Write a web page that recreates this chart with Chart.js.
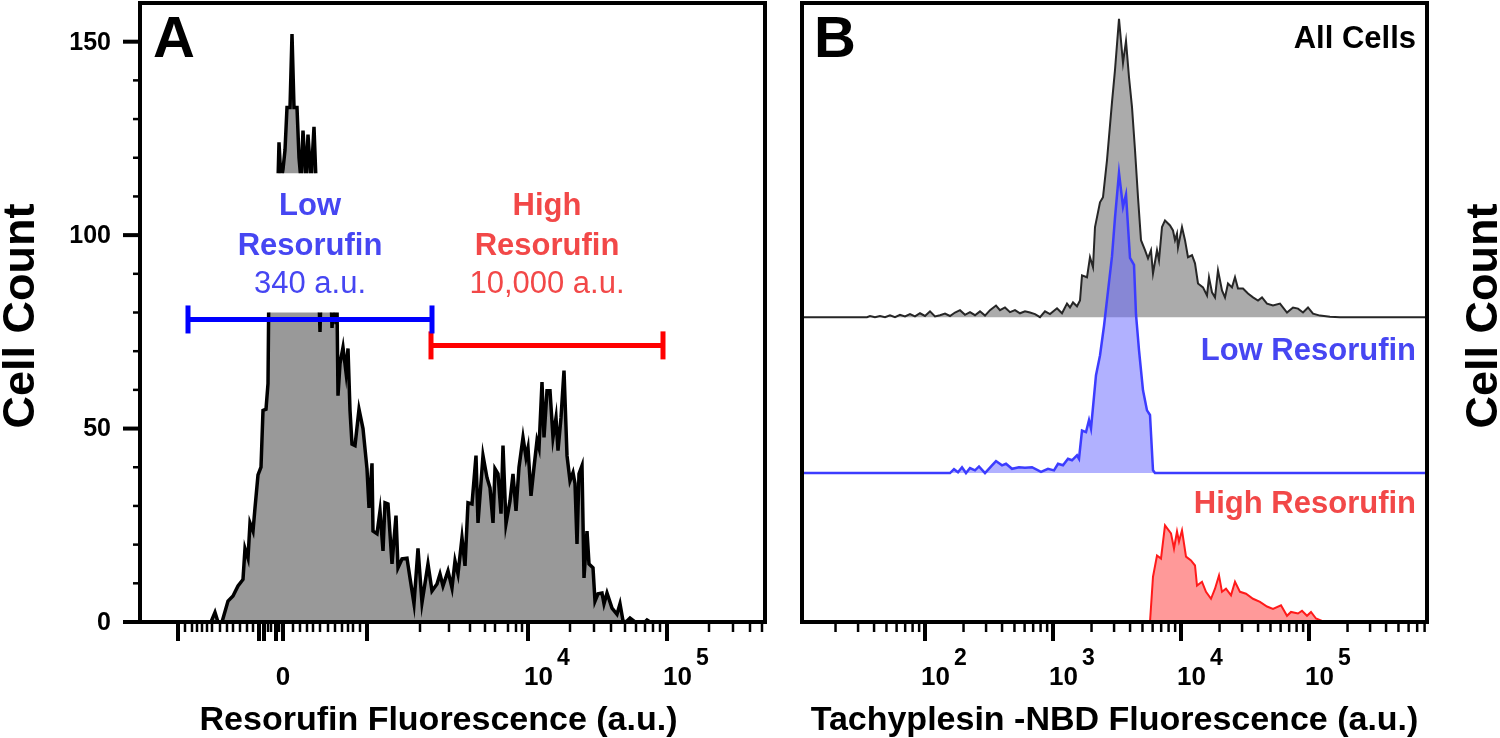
<!DOCTYPE html>
<html>
<head>
<meta charset="utf-8">
<script src="https://cdn.jsdelivr.net/npm/chart.js@4.4.1/dist/chart.umd.min.js"></script>
<style>
  html, body { margin: 0; padding: 0; background: #fff; }
  #wrap { position: relative; width: 1500px; height: 738px; overflow: hidden; }
  canvas { position: absolute; top: 0; }
  #chartA { left: 0; }
  #chartB { left: 790px; }
</style>
</head>
<body>
<div id="wrap">
  <canvas id="chartA" width="790" height="738"></canvas>
  <canvas id="chartB" width="710" height="738"></canvas>
</div>
<script>
const FONT = '"Liberation Sans", Arial, Helvetica, sans-serif'

// ---- Panel A : resorufin histogram, display channel (0-1250) vs cell count ----
const resorufinChannel = [
  0, 142, 150, 156, 164, 176, 186, 196, 206, 210, 216, 220, 226, 230, 236, 242, 246, 252, 256,
  258, 264, 270, 276, 278, 282, 286, 290, 294, 300, 304, 308, 314, 318, 322, 326, 332, 336, 342,
  348, 352, 356, 360, 364, 370, 376, 380, 384, 388, 392, 394, 396, 400, 406, 412, 416, 420, 424,
  430, 438, 446, 454, 458, 464, 466, 474, 480, 486, 490, 496, 504, 512, 516, 524, 534, 540, 548,
  556, 564, 576, 584, 594, 600, 606, 616, 624, 630, 636, 644, 650, 656, 664, 672, 676, 686, 694,
  700, 706, 710, 716, 722, 726, 732, 740, 746, 752, 758, 766, 772, 776, 782, 788, 794, 798, 804,
  808, 814, 820, 826, 832, 836, 842, 848, 854, 860, 866, 870, 874, 878, 884, 888, 894, 898, 906,
  910, 916, 924, 928, 934, 944, 954, 960, 966, 972, 980, 990, 1010, 1014, 1020, 1250
]
const resorufinCount = [
  0, 0, 2.5, 0, 0, 5.4, 6.7, 9.3, 11, 19, 16.5, 25.6, 23.5, 29.5, 38, 40, 54.7, 55, 61.6,
  90, 105, 112, 114, 124, 114, 117, 122, 133, 133, 152, 133, 133, 120, 114, 127, 114, 126, 114,
  128, 114, 92, 75, 95, 100, 98, 95, 76, 85, 77, 82, 58.5, 66.8, 71, 64.5, 70.7, 54.7, 46,
  45.6, 55, 50, 39.6, 29.5, 41, 23.5, 22.8, 28.7, 18.4, 30.8, 30.5, 15, 27.5, 14, 16.3, 16.5, 11.4, 4.7,
  19, 5, 15, 8, 9.8, 12.4, 9.3, 13.2, 8.8, 15.8, 12.4, 21.8, 14.5, 30.8, 30.5, 43, 25.6, 43, 37.3,
  34.7, 25.6, 39.6, 38.3, 28, 45.6, 25.4, 31.3, 38.3, 28.7, 40, 47.7, 42.5, 45, 32.6, 40, 46.9, 45, 62,
  47.7, 59.8, 59.8, 47.7, 52.8, 44.3, 52.8, 65, 43, 36.5, 38.6, 35.8, 20.2, 38.3, 40.4, 11.4, 23.5, 15, 14,
  5.4, 7.3, 7.5, 4.7, 7.5, 3.6, 2, 4.7, 0.3, 0, 1, 0, 0, 0.5, 0, 0
]

// gates (channel range) and the count level they are drawn at
const lowGateChannel = [96, 584]
const highGateChannel = [582, 1046]
const LOW_GATE_COUNT = 78.2
const HIGH_GATE_COUNT = 71.5

// the count axis is broken between these two values
const BREAK_LOW = 80
const BREAK_HIGH = 116

const countMajorTicks = [0, 50, 100, 150]
const countMinorTicks = [10, 20, 30, 40, 60, 70, 80, 90, 110, 120, 130, 140]

// biexponential resorufin axis, tick channels
const resorufinMajorTicks = [76, 238, 248, 272, 286, 454, 776, 1054]
const resorufinMinorTicks = [
  90, 104, 114, 124, 134, 144, 160, 174, 186, 200, 214, 226, 256, 262, 278,
  306, 320, 334, 346, 360, 376, 390, 404, 416, 426, 440,
  560, 618, 660, 690, 710, 736, 752, 764,
  860, 908, 942, 970, 992, 1010, 1026, 1040,
  1138, 1186, 1220, 1244
]
const resorufinLabelChannels = [286, 776, 1054]
const resorufinLabels = ['0', '10^4', '10^5']

// ---- Panel B : tachyplesin-NBD histograms, channel (256 per decade) vs count ----
const allChannel = [
  0, 130, 136, 146, 156, 166, 176, 186, 196, 206, 216, 226, 236, 246, 256, 266, 276, 286, 296,
  306, 316, 326, 336, 346, 356, 366, 376, 388, 396, 406, 416, 426, 436, 446, 456, 466, 476, 486,
  496, 510, 520, 530, 536, 542, 550, 556, 560, 570, 576, 582, 586, 596, 602, 610, 620, 626, 634,
  642, 648, 654, 660, 666, 672, 678, 686, 692, 698, 702, 710, 714, 720, 726, 736, 742, 746, 750,
  752, 760, 766, 772, 780, 786, 792, 802, 810, 814, 820, 826, 832, 840, 846, 852, 860, 866, 872,
  882, 892, 902, 912, 920, 930, 942, 956, 970, 982, 992, 1002, 1012, 1022, 1036, 1056, 1076, 1250
]
const allCount = [
  0, 0, 0.3, 0, 0.3, 0, 0.5, 0, 0.6, 0.2, 0.8, 0.2, 1.0, 0.3, 1.5, 0.2, 0.5, 0.9, 0.3,
  1.2, 1.8, 0.6, 1.3, 0.5, 1.5, 0.4, 1.8, 3.0, 1.8, 2.5, 1.3, 1.8, 1.0, 1.5, 1.2, 0.8, 0, 1.5,
  0.8, 2.3, 1.0, 3.5, 2.5, 3.8, 2.8, 4.3, 10.8, 10.3, 15.5, 12.9, 23.3, 29.7, 31, 40.6, 55.6, 63.9, 77.1,
  65.7, 71.4, 62, 54.3, 43.2, 31, 19.9, 17.3, 15.2, 17.3, 11.3, 17.3, 14.7, 23.3, 25, 23.7, 22.4, 19.9, 21.6,
  18, 23.3, 19.9, 15.5, 16, 13.9, 8.7, 7.7, 5.6, 10.3, 6.4, 5.1, 12.1, 6.9, 5.1, 8.7, 7.7, 10.3, 7.4,
  7.4, 6.1, 5.1, 4.3, 5.1, 3.5, 3.0, 3.5, 1.2, 2.5, 2.2, 1.2, 2.5, 0.9, 0.4, 0.1, 0, 0
]
const lowChannel = [
  0, 296, 304, 312, 320, 328, 336, 346, 354, 366, 380, 388, 400, 408, 420, 434, 446, 460, 478,
  492, 504, 512, 522, 532, 540, 550, 554, 560, 568, 574, 578, 588, 596, 604, 612, 620, 626, 634,
  642, 648, 656, 664, 668, 674, 682, 690, 696, 702, 706, 1250
]
const lowCount = [
  0, 0, 1.0, 0.2, 1.5, 0, 1.3, 0.7, 1.7, 0, 2.0, 3.1, 2.0, 2.4, 1.1, 1.5, 1.4, 1.5, 0.3,
  1.1, 0.7, 2.4, 2.0, 3.7, 3.3, 4.6, 3.7, 11, 10.6, 13.7, 11.5, 25.3, 30.4, 38, 47, 56, 66, 77.6,
  68.8, 72, 55.6, 53.8, 41, 31.8, 21.4, 16.2, 15, 0.7, 0, 0
]
const highChannel = [
  696, 702, 710, 718, 726, 738, 744, 750, 754, 760, 768, 778, 786, 790, 800, 808, 818, 826, 834,
  840, 848, 858, 866, 876, 888, 902, 916, 930, 942, 958, 970, 978, 992, 1000, 1010, 1018, 1028, 1040, 1046
]
const highCount = [
  0, 11.7, 17.2, 16.4, 25, 22.9, 19, 23.4, 20.8, 23.7, 16.9, 15.9, 14.6, 9.4, 10.4, 7.8, 6, 8.6, 12,
  7.8, 8.6, 6.9, 10.4, 7.8, 7.3, 6, 5.2, 4, 3.4, 4.3, 1.6, 2.6, 2.2, 2.9, 1.6, 2.6, 0.9, 0.3, 0
]

// log axis: channel of 10^2 and channels per decade
const B_CH_AT_100 = 246
const B_CH_PER_DECADE = 256
const tachyMajorValues = [1e2, 1e3, 1e4, 1e5]
const tachyLabels = ['10^2', '10^3', '10^4', '10^5']

const toPoints = (xs, ys) => xs.map((x, i) => ({ x, y: ys[i] }))
const logChannel = (v) => B_CH_AT_100 + B_CH_PER_DECADE * (Math.log10(v) - 2)

// ---- drawing helpers ----
function tick (ctx, x1, y1, x2, y2, width) {
  ctx.lineWidth = width
  ctx.beginPath()
  ctx.moveTo(x1, y1)
  ctx.lineTo(x2, y2)
  ctx.stroke()
}

function drawPowerLabel (ctx, text, px, baseY) {
  const [base, exp] = text.split('^')
  ctx.font = 'bold 26px ' + FONT
  ctx.textBaseline = 'alphabetic'
  if (!exp) {
    ctx.textAlign = 'center'
    ctx.fillText(base, px, baseY)
    return
  }
  ctx.textAlign = 'left'
  const left = px - 4
  ctx.fillText(base, left, baseY)
  const w = ctx.measureText(base).width
  ctx.font = 'bold 23px ' + FONT
  ctx.fillText(exp, left + w + 4, baseY - 20)
}

function drawRotated (ctx, text, x, y, font) {
  ctx.save()
  ctx.translate(x, y)
  ctx.rotate(-Math.PI / 2)
  ctx.font = font
  ctx.textAlign = 'center'
  ctx.textBaseline = 'alphabetic'
  ctx.fillText(text, 0, 0)
  ctx.restore()
}

function drawBox (chart) {
  const { ctx, chartArea: a } = chart
  ctx.strokeStyle = '#000'
  ctx.lineWidth = 4
  ctx.strokeRect(a.left, a.top, a.right - a.left, a.bottom - a.top)
}

function drawXAxis (chart, majors, minors, labelAt, labels) {
  const { ctx, chartArea: a, scales: { x } } = chart
  ctx.strokeStyle = '#000'
  ctx.fillStyle = '#000'
  minors.forEach(v => {
    const px = x.getPixelForValue(v)
    tick(ctx, px, a.bottom, px, a.bottom + 10, 2.5)
  })
  majors.forEach(v => {
    const px = x.getPixelForValue(v)
    tick(ctx, px, a.bottom, px, a.bottom + 19, 4)
  })
  labelAt.forEach((v, i) => drawPowerLabel(ctx, labels[i], x.getPixelForValue(v), a.bottom + 63))
}

// ---- axis break for panel A (clip the histogram between BREAK_LOW and BREAK_HIGH) ----
const breakPlugin = {
  id: 'axisBreak',
  beforeDatasetsDraw (chart) {
    const { ctx, chartArea: a, scales: { y } } = chart
    const hi = y.getPixelForValue(BREAK_HIGH)
    const lo = y.getPixelForValue(BREAK_LOW)
    ctx.save()
    ctx.beginPath()
    ctx.rect(a.left - 10, 0, a.right - a.left + 20, hi)
    ctx.rect(a.left - 10, lo, a.right - a.left + 20, chart.height - lo)
    ctx.clip()
  },
  afterDatasetDraw (chart, args) {
    if (chart.data.datasets[args.index].label === 'Resorufin') chart.ctx.restore()
  }
}

const frameA = {
  id: 'frameA',
  afterDatasetsDraw (chart) {
    const { ctx, chartArea: a, scales: { x, y } } = chart
    ctx.save()
    drawBox(chart)
    // count axis
    countMinorTicks.forEach(v => {
      const py = y.getPixelForValue(v)
      tick(ctx, a.left, py, a.left - 7, py, 2.5)
    })
    countMajorTicks.forEach(v => {
      const py = y.getPixelForValue(v)
      tick(ctx, a.left, py, a.left - 17, py, 4)
      ctx.fillStyle = '#000'
      ctx.font = 'bold 25px ' + FONT
      ctx.textAlign = 'right'
      ctx.textBaseline = 'middle'
      ctx.fillText(String(v), a.left - 29, py + 1)
    })
    drawXAxis(chart, resorufinMajorTicks, resorufinMinorTicks, resorufinLabelChannels, resorufinLabels)

    ctx.fillStyle = '#000'
    ctx.textBaseline = 'alphabetic'
    ctx.textAlign = 'center'
    ctx.font = 'bold 34px ' + FONT
    ctx.fillText('Resorufin Fluorescence (a.u.)', (a.left + a.right) / 2 - 14, a.bottom + 108)
    drawRotated(ctx, 'Cell Count', 34, 316, 'bold 45px ' + FONT)

    ctx.textAlign = 'left'
    ctx.font = 'bold 58px ' + FONT
    ctx.fillText('A', a.left + 13, a.top + 54)

    // gate annotations
    const gateText = [
      { gate: lowGateChannel, color: '#4646f2', lines: ['Low', 'Resorufin', '340 a.u.'] },
      { gate: highGateChannel, color: '#f24848', lines: ['High', 'Resorufin', '10,000 a.u.'] }
    ]
    const rows = [105.2, 94.8, 85]
    gateText.forEach(g => {
      const cx = x.getPixelForValue((g.gate[0] + g.gate[1]) / 2)
      ctx.fillStyle = g.color
      ctx.textAlign = 'center'
      g.lines.forEach((t, i) => {
        ctx.font = (i < 2 ? 'bold ' : '') + '31px ' + FONT
        ctx.fillText(t, cx, y.getPixelForValue(rows[i]))
      })
    })
    ctx.restore()
  }
}

const frameB = {
  id: 'frameB',
  afterDatasetsDraw (chart) {
    const { ctx, chartArea: a } = chart
    ctx.save()
    drawBox(chart)
    const majors = tachyMajorValues.map(logChannel)
    const minors = []
    for (let n = 1; n <= 5; n++) {
      for (let k = 2; k <= 9; k++) {
        const c = logChannel(k * Math.pow(10, n))
        if (c > 0 && c < 1250) minors.push(c)
      }
    }
    drawXAxis(chart, majors, minors, majors, tachyLabels)

    ctx.fillStyle = '#000'
    ctx.textBaseline = 'alphabetic'
    ctx.textAlign = 'center'
    ctx.font = 'bold 34px ' + FONT
    ctx.fillText('Tachyplesin -NBD Fluorescence (a.u.)', (a.left + a.right) / 2, a.bottom + 108)
    drawRotated(ctx, 'Cell Count', 707, 316, 'bold 45px ' + FONT)

    ctx.textAlign = 'left'
    ctx.font = 'bold 58px ' + FONT
    ctx.fillText('B', a.left + 12, a.top + 54)

    ctx.textAlign = 'right'
    ctx.font = 'bold 31px ' + FONT
    ctx.fillStyle = '#000'
    ctx.fillText('All Cells', a.right - 11, a.top + 45)
    ctx.fillStyle = '#4646f2'
    ctx.fillText('Low Resorufin', a.right - 11, a.top + 357)
    ctx.fillStyle = '#f24848'
    ctx.fillText('High Resorufin', a.right - 11, a.top + 510)
    ctx.restore()
  }
}

const baseOptions = (padding) => ({
  responsive: false,
  animation: false,
  devicePixelRatio: 1,
  layout: { padding, autoPadding: false },
  plugins: { legend: { display: false }, tooltip: { enabled: false } },
  elements: { line: { tension: 0 }, point: { radius: 0 } }
})

// ---- chart A ----
const optionsA = baseOptions({ left: 140, top: 3, right: 25, bottom: 116 })
optionsA.scales = {
  x: { type: 'linear', min: 0, max: 1250, display: false },
  y: { type: 'linear', min: 0, max: 160, display: false }
}
const gate = (label, channels, count, color) => ({
  label,
  data: toPoints(channels, [count, count]),
  borderColor: color,
  borderWidth: 5,
  fill: false,
  pointStyle: 'line',
  pointRotation: 90,
  pointRadius: 14,
  pointBorderWidth: 5,
  pointBorderColor: color,
  order: 1
})
new Chart(document.getElementById('chartA'), {
  type: 'line',
  data: {
    datasets: [
      gate('Low gate', lowGateChannel, LOW_GATE_COUNT, '#0000ff'),
      gate('High gate', highGateChannel, HIGH_GATE_COUNT, '#ff0000'),
      {
        label: 'Resorufin',
        data: toPoints(resorufinChannel, resorufinCount),
        borderColor: '#000',
        borderWidth: 3.5,
        backgroundColor: '#999999',
        fill: 'origin',
        pointRadius: 0,
        order: 2
      }
    ]
  },
  options: optionsA,
  plugins: [breakPlugin, frameA]
})

// ---- chart B (three offset histograms, one hidden y axis each) ----
const optionsB = baseOptions({ left: 12, top: 3, right: 73, bottom: 116 })
optionsB.scales = {
  x: { type: 'linear', min: 0, max: 1250, display: false },
  yAll: { type: 'linear', min: -78.8, max: 81.2, display: false },
  yLow: { type: 'linear', min: -38.5, max: 121.5, display: false },
  yHigh: { type: 'linear', min: 0, max: 160, display: false }
}
new Chart(document.getElementById('chartB'), {
  type: 'line',
  data: {
    datasets: [
      {
        label: 'High Resorufin',
        data: toPoints(highChannel, highCount),
        yAxisID: 'yHigh',
        borderColor: '#ff1a1a',
        borderWidth: 2,
        backgroundColor: 'rgba(255, 70, 70, 0.55)',
        fill: 'origin',
        order: 0
      },
      {
        label: 'Low Resorufin',
        data: toPoints(lowChannel, lowCount),
        yAxisID: 'yLow',
        borderColor: '#3c3cff',
        borderWidth: 2.5,
        backgroundColor: 'rgba(100, 100, 255, 0.5)',
        fill: 'origin',
        order: 1
      },
      {
        label: 'All Cells',
        data: toPoints(allChannel, allCount),
        yAxisID: 'yAll',
        borderColor: '#262626',
        borderWidth: 2,
        backgroundColor: '#ababab',
        fill: 'origin',
        order: 2
      }
    ]
  },
  options: optionsB,
  plugins: [frameB]
})
</script>
</body>
</html>
